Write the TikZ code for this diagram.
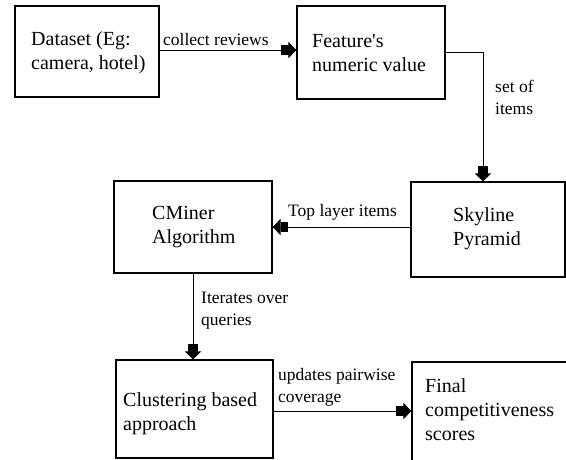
\documentclass[tikz,border=0pt]{standalone}
\usepackage{fontspec}
\setmainfont{Liberation Serif}
\usetikzlibrary{arrows.meta}
\begin{document}
\begin{tikzpicture}[x=1pt,y=-1pt,
  boxshape/.style={draw=black,line width=1.1pt,rectangle,inner sep=0pt},
  boxtext/.style={anchor=base west,inner sep=0pt,align=left,font=\fontsize{20}{24}\selectfont},
  lbltext/.style={anchor=base west,inner sep=0pt,align=left,font=\fontsize{17.5}{21.5}\selectfont},
  conn/.style={draw=black,line width=0.9pt,-{Rectangle[length=7pt,width=10pt,sep=0pt]Triangle[length=8pt,width=16pt]}}]
\useasboundingbox (0,0) rectangle (566,459);
\fill[white] (0,0) rectangle (566,459);
% boxes
\node[boxshape,minimum width=144pt,minimum height=91pt] (ds) at (87,51.5) {};
\node[boxshape,minimum width=148pt,minimum height=93pt] (feat) at (371,52.5) {};
\node[boxshape,minimum width=154pt,minimum height=95pt] (sky) at (488,229.5) {};
\node[boxshape,minimum width=158pt,minimum height=92pt] (cm) at (193,227) {};
\node[boxshape,minimum width=157pt,minimum height=98pt] (cl) at (194.5,409) {};
\node[boxshape,minimum width=160pt,minimum height=104pt] (fin) at (492,414) {};
% box texts (anchor at baseline of last line)
\node[boxtext] (dst) at (31,69) {Dataset (Eg:\\camera, hotel)};
\node[boxtext] (featt) at (312,71) {Feature\textquotesingle s\\numeric value};
\node[boxtext] (skyt) at (453,245) {Skyline\\Pyramid};
\node[boxtext] (cmt) at (152,243) {CMiner\\Algorithm};
\node[boxtext] (clt) at (123,430) {Clustering based\\approach};
\node[boxtext] (fint) at (425,440) {Final\\competitiveness\\scores};
% connectors
\coordinate (c1) at (483,52);
\draw[conn] (ds.east |- 0,50) -- (feat.west |- 0,50);
\draw[conn] (feat.east |- c1) -- (c1) -- (sky.north -| c1);
\draw[conn] (sky.west |- 0,227) -- (cm.east |- 0,227);
\draw[conn] (cm.south) -- (cl.north -| cm.south);
\draw[conn] (cl.east |- 0,411) -- (fin.west |- 0,411);
% labels
\node[lbltext] (l1) at (163,45) {collect reviews};
\node[lbltext] (l2) at (495,114) {set of\\items};
\node[lbltext] (l3) at (288,216) {Top layer items};
\node[lbltext] (l4) at (201,325) {Iterates over\\queries};
\node[lbltext] (l5) at (278,402) {updates pairwise\\coverage};
\end{tikzpicture}
\end{document}
